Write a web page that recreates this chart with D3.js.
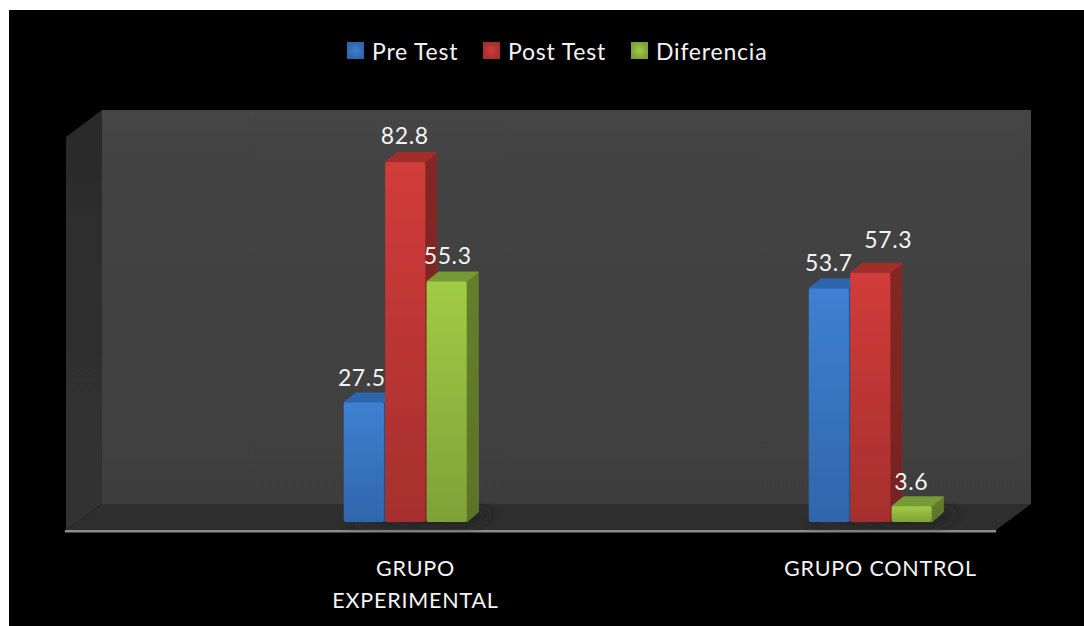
<!DOCTYPE html>
<html>
<head>
<meta charset="utf-8">
<script src="https://cdn.jsdelivr.net/npm/d3@7"></script>
<style>
html, body { margin: 0; padding: 0; background: #fff; overflow: hidden; }
svg { display: block; }
text { font-family: Lato, "Open Sans", sans-serif; fill: #f4f4f4; }
</style>
</head>
<body>
<div id="chart"></div>
<script>
const categories = ['GRUPO EXPERIMENTAL', 'GRUPO CONTROL'];
const seriesNames = ['Pre Test', 'Post Test', 'Diferencia'];
const preTest = [27.5, 53.7];
const postTest = [82.8, 57.3];
const diferencia = [55.3, 3.6];
const seriesValues = [preTest, postTest, diferencia];

const palette = [
    { top: '#3f80d2', bottom: '#2f66ab', side: '#285590', lid: '#2e66ad' },
    { top: '#d13c3a', bottom: '#a52f2d', side: '#842725', lid: '#a12d2c' },
    { top: '#a2cb46', bottom: '#7fa137', side: '#667f2c', lid: '#769a34' }
];

const width = 1084, height = 626;
const depthX = 12, depthY = 10;
const wall = { left: 102, right: 1031, top: 110, bottom: 504 };
const front = { left: 66, right: 996, top: 137, bottom: 530 };
const baseY = 522;

const svg = d3.select('#chart').append('svg')
    .attr('width', width)
    .attr('height', height);

const defs = svg.append('defs');
defs.append('filter').attr('id', 'soft')
    .append('feGaussianBlur').attr('stdDeviation', 0.5);
defs.append('filter').attr('id', 'shadow')
    .attr('x', '-30%').attr('y', '-100%').attr('width', '160%').attr('height', '300%')
    .append('feGaussianBlur').attr('stdDeviation', 6);

function gradient(id, from, to) {
    const g = defs.append('linearGradient').attr('id', id)
        .attr('x1', 0).attr('y1', 0).attr('x2', 0).attr('y2', 1);
    g.append('stop').attr('offset', 0).attr('stop-color', from);
    g.append('stop').attr('offset', 1).attr('stop-color', to);
}
gradient('wallFill', '#444444', '#3e3e3e');
gradient('sideFill', '#2b2b2b', '#323232');
palette.forEach((p, i) => {
    gradient('face' + i, p.top, p.bottom);
    gradient('side' + i, p.side, d3.color(p.side).darker(0.3));
    const sw = defs.append('radialGradient').attr('id', 'swatch' + i);
    sw.append('stop').attr('offset', 0).attr('stop-color', p.top);
    sw.append('stop').attr('offset', 1).attr('stop-color', p.bottom);
});

// the black plate, white margin stays on the top and left
svg.append('rect').attr('x', 9).attr('y', 10)
    .attr('width', width - 9).attr('height', height - 10)
    .attr('fill', '#000');

const x0 = d3.scaleBand().domain(categories).range([173, 1103]);
const x1 = d3.scaleBand().domain(seriesNames).range([-63, 62.5]).padding(0.03);
const y = d3.scaleLinear().domain([0, 82.8]).range([baseY, 162]);
const line = d3.line();

// walls and floor
const room = svg.append('g').attr('filter', 'url(#soft)');
room.append('path')
    .attr('d', line([[front.left, front.top], [wall.left, wall.top], [wall.left, wall.bottom], [front.left, front.bottom]]) + 'Z')
    .attr('fill', 'url(#sideFill)');
room.append('rect')
    .attr('x', wall.left).attr('y', wall.top)
    .attr('width', wall.right - wall.left).attr('height', wall.bottom - wall.top)
    .attr('fill', 'url(#wallFill)');
room.append('path')
    .attr('d', line([[front.left, front.bottom], [wall.left, wall.bottom], [wall.right, wall.bottom], [front.right, front.bottom]]) + 'Z')
    .attr('fill', '#2f2f2f');
room.append('rect')
    .attr('x', front.left - 1).attr('y', front.bottom)
    .attr('width', front.right - front.left + 1).attr('height', 2.5)
    .attr('fill', '#8c8c8c');

// shadows on the floor
categories.forEach(c => {
    const cx = x0(c) + x0.bandwidth() / 2;
    svg.append('path')
        .attr('d', line([[cx - 66, baseY + 3], [cx + 64, baseY + 3], [cx + 88, baseY - 9], [cx + 62, baseY - 12]]) + 'Z')
        .attr('fill', '#222222')
        .attr('filter', 'url(#shadow)');
});

// bars
const bars = svg.append('g').attr('filter', 'url(#soft)');
categories.forEach((c, ci) => {
    const cx = x0(c) + x0.bandwidth() / 2;
    seriesNames.forEach((s, si) => {
        const v = seriesValues[si][ci];
        const l = cx + x1(s), r = l + x1.bandwidth(), t = y(v);
        const g = bars.append('g');
        g.append('path')
            .attr('d', line([[r, t], [r + depthX - 0.5, t - depthY + 0.5], [r + depthX - 0.5, baseY - depthY], [r, baseY]]) + 'Z')
            .attr('fill', `url(#side${si})`)
            .attr('stroke', palette[si].side).attr('stroke-width', 1).attr('stroke-linejoin', 'round');
        g.append('path')
            .attr('d', line([[l, t], [l + depthX, t - depthY + 0.5], [r + depthX - 0.5, t - depthY + 0.5], [r, t]]) + 'Z')
            .attr('fill', palette[si].lid)
            .attr('stroke', palette[si].lid).attr('stroke-width', 1).attr('stroke-linejoin', 'round');
        g.append('rect')
            .attr('x', l).attr('y', t)
            .attr('width', r - l).attr('height', baseY - t)
            .attr('rx', 2)
            .attr('fill', `url(#face${si})`);
    });
});

// value labels, nudged one by one like in the original
const labelShift = [
    [[-2, -16], [-0.5, -18], [1, -17.5]],
    [[0, -17.5], [18, -25], [-0.5, -16]]
];
categories.forEach((c, ci) => {
    const cx = x0(c) + x0.bandwidth() / 2;
    seriesNames.forEach((s, si) => {
        const v = seriesValues[si][ci];
        svg.append('text')
            .attr('x', cx + x1(s) + x1.bandwidth() / 2 + labelShift[ci][si][0])
            .attr('y', y(v) + labelShift[ci][si][1])
            .attr('text-anchor', 'middle')
            .attr('font-size', 23)
            .attr('letter-spacing', 0.6)
            .text(v.toFixed(1));
    });
});

// category axis, text only
const axis = svg.append('g')
    .attr('transform', `translate(10,${front.bottom + 2})`)
    .call(d3.axisBottom(x0).tickSize(0).tickPadding(0));
axis.select('.domain').remove();
axis.selectAll('text').each(function (d) {
    const t = d3.select(this).attr('font-size', 21.5).attr('y', null).attr('dy', null)
        .attr('letter-spacing', 0.8).style('font-family', 'Lato, sans-serif').attr('fill', '#f4f4f4');
    const parts = d === 'GRUPO EXPERIMENTAL' ? d.split(' ') : [d];
    t.text(null);
    parts.forEach((p, i) => {
        t.append('tspan').attr('x', 0).attr('y', 44 + i * 32).text(p);
    });
});

// legend
const legendSwatch = [347, 483, 631];
const legendText = [372, 508, 656];
const legend = svg.append('g');
seriesNames.forEach((s, i) => {
    legend.append('rect')
        .attr('x', legendSwatch[i]).attr('y', 42)
        .attr('width', 17).attr('height', 17)
        .attr('fill', `url(#swatch${i})`)
        .attr('filter', 'url(#soft)');
    legend.append('text')
        .attr('x', legendText[i]).attr('y', 59.5)
        .attr('font-size', 23)
        .attr('letter-spacing', 0.8)
        .text(s);
});
</script>
</body>
</html>
